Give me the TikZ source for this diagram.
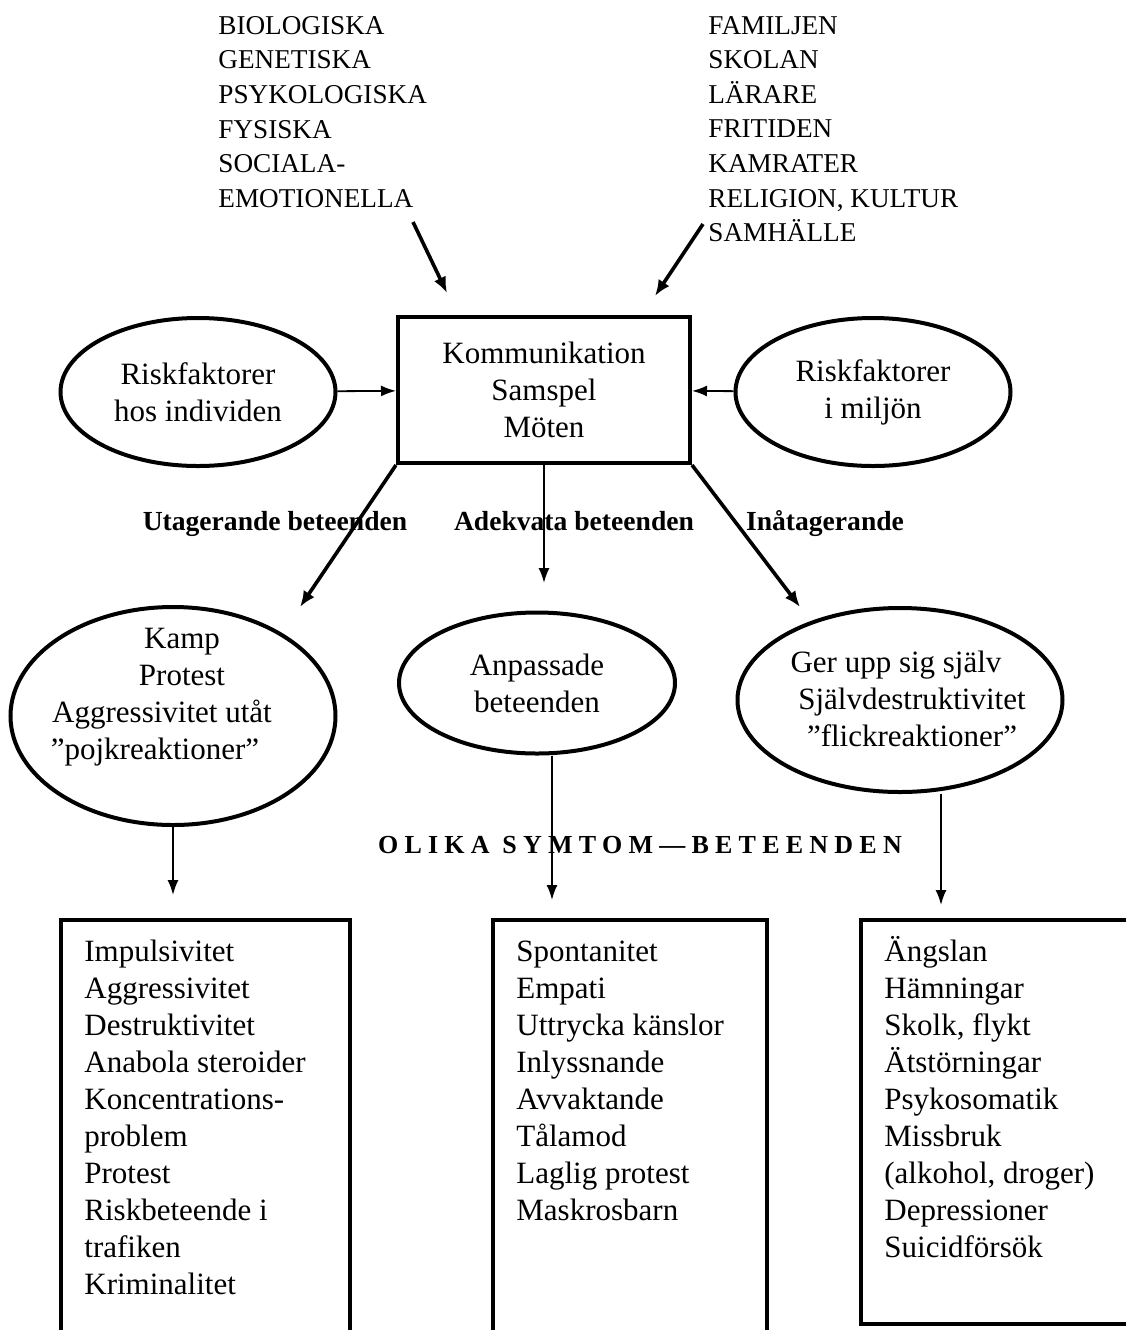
\documentclass[tikz,border=0pt]{standalone}
\usepackage{fontspec}
\setmainfont{Liberation Serif}
\newfontfamily\glesfont[LetterSpace=24]{Liberation Serif}
\usetikzlibrary{shapes.geometric,arrows.meta}
\newcommand\brodtext{\fontsize{15.5}{18.5}\selectfont}
\newcommand\versaltext{\fontsize{13.6}{17.3}\selectfont}
\newcommand\pilltext{\fontsize{13.8}{16}\selectfont\bfseries}
\newcommand\rubriktext{\glesfont\fontsize{13}{15}\selectfont\bfseries}

\begin{document}
\begin{tikzpicture}[x=0.5pt,y=-0.5pt,
    every node/.style={font=\brodtext, inner sep=0pt},
    oval/.style={draw, ellipse, line width=2pt},
    ruta/.style={draw, rectangle, line width=2pt},
    etikett/.style={font=\pilltext, anchor=base},
    pil/.style={-{Latex[length=7.5pt,width=5.5pt]}, line width=0.9pt},
    tjockpil/.style={-{Latex[length=8pt,width=6.5pt]}, line width=1.8pt}]
  \useasboundingbox (0,0) rectangle (1126,1330);
  \clip (0,0) rectangle (1126,1330);

  \node[align=left, anchor=west, font=\versaltext] (bio) at (218,112) {BIOLOGISKA\\GENETISKA\\PSYKOLOGISKA\\FYSISKA\\SOCIALA-\\EMOTIONELLA};
  \node[align=left, anchor=west, font=\versaltext] (fam) at (708,129) {FAMILJEN\\SKOLAN\\LÄRARE\\FRITIDEN\\KAMRATER\\RELIGION, KULTUR\\SAMHÄLLE};
  \coordinate (bioa) at (413,222);
  \coordinate (biob) at (447,293);
  \coordinate (fama) at (703,224);
  \coordinate (famb) at (655,296);
  \draw[tjockpil] (bioa) -- (biob);
  \draw[tjockpil] (fama) -- (famb);

  \node[ruta, minimum width=146pt, minimum height=73pt, align=center] (komm) at (544,390) {Kommunikation\\Samspel\\Möten};
  \node[oval, minimum width=137.5pt, minimum height=74pt, align=center] (indiv) at (198,392) {Riskfaktorer\\hos individen};
  \node[oval, minimum width=137.5pt, minimum height=74pt, align=center] (miljo) at (873,392) {Riskfaktorer\\i miljön};
  \draw[pil] (indiv) -- (komm);
  \draw[pil] (miljo) -- (komm);

  \coordinate (kampin) at (300,607);
  \coordinate (anpin) at (544,583);
  \coordinate (gerin) at (800,607);
  \draw[tjockpil] (komm.south west) -- (kampin);
  \draw[pil] (komm.south) -- (anpin);
  \draw[tjockpil] (komm.south east) -- (gerin);
  \node[etikett] (utlbl) at (275,530) {Utagerande beteenden};
  \node[etikett] (adlbl) at (574,530) {Adekvata beteenden};
  \node[etikett] (inlbl) at (825,530) {Inåtagerande};

  \node[oval, minimum width=162.5pt, minimum height=109pt] (kamp) at (173,716) {};
  \node[oval, minimum width=138pt, minimum height=70.5pt, align=center] (anpass) at (537,683) {Anpassade\\beteenden};
  \node[oval, minimum width=162.5pt, minimum height=92pt] (ger) at (900,700) {};
  \node[align=center] (kamptext) at ([shift={(-11,-19)}]kamp) {\hspace*{20pt}Kamp\\\hspace*{20pt}Protest\\Aggressivitet utåt\\”pojkreaktioner”\hspace*{7pt}};
  \node[align=center] (gertext) at ([shift={(12,-1)}]ger) {Ger upp sig själv\hspace*{16pt}\\Självdestruktivitet\\”flickreaktioner”};

  \node[font=\rubriktext] (symtom) at (640,845) {OLIKA SYMTOM—BETEENDEN};

  \coordinate (utpil) at (173,895);
  \coordinate (adpil) at (552,900);
  \coordinate (inpil) at (941,905);
  \draw[pil] (kamp.south) -- (utpil);
  \draw[pil] (adpil |- anpass.south) -- (adpil);
  \draw[pil] (inpil |- ger.south) -- (inpil);

  \node[ruta, minimum width=144.5pt, minimum height=230pt] (utbox) at (205.5,1150) {};
  \node[ruta, minimum width=137pt, minimum height=230pt] (adbox) at (630,1150) {};
  \node[ruta, minimum width=139.5pt, minimum height=202pt] (inbox) at (1000.5,1122) {};

  \node[align=left, anchor=west] (utlista) at (84,1117) {Impulsivitet\\Aggressivitet\\Destruktivitet\\Anabola steroider\\Koncentrations-\\problem\\Protest\\Riskbeteende i\\trafiken\\Kriminalitet};
  \node[align=left, anchor=west] (adlista) at (516,1081) {Spontanitet\\Empati\\Uttrycka känslor\\Inlyssnande\\Avvaktande\\Tålamod\\Laglig protest\\Maskrosbarn};
  \node[align=left, anchor=west] (inlista) at (884,1097) {Ängslan\\Hämningar\\Skolk, flykt\\Ätstörningar\\Psykosomatik\\Missbruk\\(alkohol, droger)\\Depressioner\\Suicidförsök};
\end{tikzpicture}
\end{document}
